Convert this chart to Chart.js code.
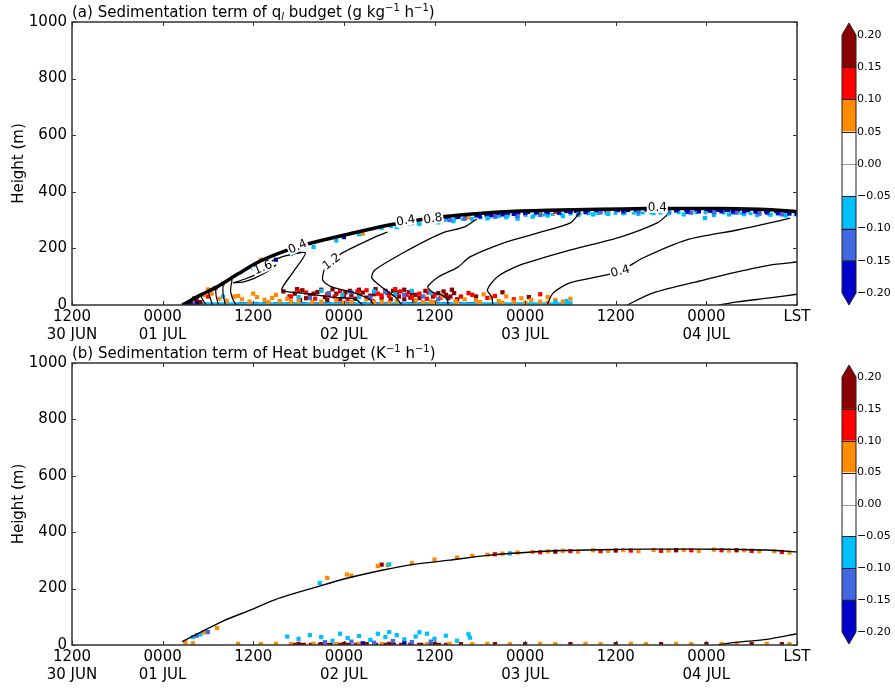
<!DOCTYPE html>
<html>
<head>
<meta charset="utf-8">
<script src="https://cdn.jsdelivr.net/npm/chart.js@4.4.1/dist/chart.umd.min.js"></script>
<style>
  body { margin: 0; background: #fff; width: 895px; height: 688px; position: relative; overflow: hidden; }
  .box { position: absolute; }
</style>
</head>
<body>
<div class="box" style="left:0;top:0"><canvas id="qlChart" width="895" height="341"></canvas></div>
<div class="box" style="left:820px;top:0"><canvas id="qlBar" width="75" height="341"></canvas></div>
<div class="box" style="left:0;top:341px"><canvas id="heatChart" width="895" height="341"></canvas></div>
<div class="box" style="left:820px;top:341px"><canvas id="heatBar" width="75" height="341"></canvas></div>

<script>
const FONT = "DejaVu Sans";

// time axis: hours since 1200 LST 30 JUN
const xTickValues = [0, 12, 24, 36, 48, 60, 72, 84, 96];
const xTickLines = [
  ["1200", "30 JUN"], ["0000", "01 JUL"], ["1200", ""], ["0000", "02 JUL"], ["1200", ""],
  ["0000", "03 JUL"], ["1200", ""], ["0000", "04 JUL"], ["LST", ""]
];
const yTickValues = [0, 200, 400, 600, 800, 1000];

// colour bar
const cbLevels = [-0.20, -0.15, -0.10, -0.05, 0.00, 0.05, 0.10, 0.15, 0.20];
const cbColors = ["#0000cd", "#4169e1", "#00bfff", "#ffffff", "#ffffff", "#ff8c00", "#ff0000", "#8b0000"];

// (a) ql contours  [hour, height m]
const qlCloudTop = [[14.6,0],[17,35],[19.2,64],[22,110],[24.9,155],[29.3,201],[33,228],[38.1,260],[42,283],[47,305],[51.4,318],[56.7,329],[63,335],[69.9,338],[76,341],[83.2,341],[88,340],[91,338],[94,334],[96,330]];
const qlFan1 = [[16.2,20],[16.6,8],[16.9,0]];
const qlFan2 = [[17,35],[17.4,15],[17.8,0]];
const qlFan3 = [[18,50],[18.3,25],[18.6,0]];
const qlFan4 = [[19,62],[19.1,30],[19.4,0]];
const qlFan5 = [[20,78],[20,40],[20.3,0]];
const qlFan6 = [[21.2,92],[21,50],[21.4,14],[21.8,0]];
const qlLoop16 = [[21.3,78],[22.9,92],[24.6,110],[26.2,131],[27,141],[26,120],[24.2,95],[22.6,81],[21.3,78]];
const qlC1 = [[26,150],[28,172],[30.9,184],[29.3,117],[27.8,53],[30.5,42],[34.4,28],[37.5,21],[38.5,0]];
const qlC2 = [[41.8,258],[40.1,240],[35.8,184],[34.4,152],[33.5,131],[33.2,88],[34.4,64],[37.5,42],[39.5,18],[39.9,0]];
const qlC3 = [[53.6,304],[52,276],[49,254],[44.5,194],[40.1,124],[39.7,95],[41,64],[42.8,28],[43.7,0]];
const qlC4 = [[67.3,329],[66,290],[61.6,254],[57.1,219],[52.7,170],[51.1,134],[48.5,99],[47.1,64],[47.7,46],[49,35],[49.7,18],[49.8,0]];
const qlC5 = [[78.8,318],[77.5,290],[72.6,240],[65.9,194],[59.3,141],[56.3,99],[55,53],[55.6,28],[55.7,0]];
const qlC6 = [[95.1,307],[92.4,290],[88.1,265],[81.4,230],[75.6,166],[72.3,117],[65.9,78],[63.7,42],[62.9,0]];
const qlC7 = [[96,152],[92.4,141],[88.1,117],[83.6,88],[76.9,42],[73.5,0]];
const qlC8 = [[96,38],[92.4,25],[88.1,11],[85.6,0]];

// (a) ql tendency speckles  [hour, height m]
const qlDarkRed = [[28,48],[29.5,40],[30.5,52],[31.5,35],[32.5,46],[33.5,28],[34.5,55],[35,40],[36,30],[36.8,50],[37.5,22],[38.5,44],[39.5,33],[40.2,56],[41,25],[41.8,42],[42.5,50],[43.3,30],[44,20],[44.6,45],[45.5,36],[49.2,48],[49.5,36],[49.8,24],[50.3,54],[44.8,26],[16.5,18],[17,10],[15.8,6],[53.5,30],[57,45],[60.5,28],
  [28.8,30],[29.8,56],[31,24],[32,40],[33,54],[34,36],[35.5,20],[36.2,44],[37,34],[38,54],[39,26],[40,38],[41.5,50],[42.2,20],[43,44],[44,54],[45,40],[46,24],[46.8,50],[47.8,30],[48.5,42],[50.1,30],[50.6,42],[51,20],[45.3,15],[33.8,18],[30.2,18]];
const qlRed = [[29,30],[31,44],[32.2,22],[33.8,38],[35.5,48],[36.5,20],[38,36],[39,52],[40.5,40],[42,32],[43.5,48],[45,28],[46,40],[47,22],[48,35],[51.5,30],[52.5,42],[55,25],[58.5,20],[16.2,24],[18,30],[62,38],[44,288],[60,326],[64,330],[91,332],[19,60],
  [30,48],[34.8,30],[37.8,48],[41,34],[44.3,36],[47.2,44],[48.8,26],[53,36],[56,32],[39.8,14],[42.8,56]];
const qlOrange = [[19.5,22],[20.5,15],[21.5,30],[22.5,20],[23.5,12],[24.5,28],[25.5,18],[26.5,25],[27.5,14],[28.5,22],[30,14],[33,12],[35,16],[37,10],[39,20],[41,12],[43,14],[45.5,16],[47.5,12],[49,30],[50.8,14],[52,20],[53.5,16],[54.5,38],[55.5,26],[56.5,14],[57.5,30],[58.5,12],[59.5,24],[60.8,18],[62,12],[63,28],[64,18],[65,12],[66,22],[18.5,40],[17.5,35],[38.5,252],[43.5,282],[49,300],[52.5,310],[62,321],[71,326],[83,334],[20,75],[18,55],[25,160],
  [27,36],[29,12],[31.8,10],[36,8],[40,10],[42,8],[46.5,10],[48,10],[51,8],[54,10],[57,8],[60,8],[63,8],[24,40],[26,10],[22,32]];
const qlSky = [[30,28],[33,50],[35.8,36],[38,28],[40,48],[42.8,38],[45,50],[47.5,42],[20,30],[15,3],[64,10],[65.5,14],[66,6],[41,272],[43,275],[46,286],[48.5,292],[50.5,296],[53,303],[55,306],[57.5,310],[59,305],[61,312],[63,316],[65,314],[67,318],[69,320],[71,322],[73,324],[75,322],[77,325],[79,324],[81,320],[83.8,307],[85,318],[87,320],[89,321],[90.7,318],[92.5,319],[94.5,316],[24,130],[26,150],[29,180],[32,205],[35,228],[38,250]];
const qlRoyal = [[31.5,25],[34,42],[37,45],[39.5,26],[41.5,46],[44,36],[46.5,30],[48.5,20],[50,300],[52,305],[56,312],[59,314],[62,318],[67,322],[70,327],[75,330],[79,330],[82,326],[85,327],[88,326],[91,323],[94,320]];
const qlNavy = [[54,313],[55.5,318],[57,320],[58.5,322],[60,325],[61.5,327],[63,328],[64.5,326],[66,329],[68,328],[73,331],[77,333],[80,334],[81.5,330],[83,331],[84.5,333],[86,331],[87.5,330],[89,331],[90.5,330],[92,327],[93.5,326],[95,323],[96,322],[27,160],[30,190],[36,240],[45,290],[48,298],[15.5,4],[16.5,6]];
const qlGroundSky = [[15,4],[66,4]];
const qlGroundNavy = [[22,5],[54,5]];
const qlTopNavy = [[48,301],[52,311],[56,320],[60,326],[66,330],[72,333],[78,335],[84,335],[90,332],[96,326]];
const qlTopSky = [[42,276],[46,290],[50,300],[54,308],[58,314],[64,320],[70,323],[76,325],[82,326],[88,324],[94,320],[96,318]];

// (b) heat contours
const heatCloudTop = [[14.6,12],[17,45],[20,85],[23.6,124],[27,162],[32.4,206],[36,234],[41.2,266],[45,285],[50,301],[55,318],[60,328],[65,335],[70,338],[76,340],[83,340],[88,339],[92,337],[96,330]];
const heatC1 = [[85.5,0],[88,10],[92,20],[96,40]];

// (b) heat tendency speckles
const heatDarkRed = [[41,285],[64,331],[72,335],[80,336],[88,336],[30,4],[33,3],[36,4],[39,3],[42,4],[45,3],[48,4],[51.5,3],[56,3],[60,3],[66,3],[72,3],[78,3],[84,3],[90,3],[94,3]];
const heatRed = [[56,322],[62,329],[66,333],[70,333],[74,335],[78,334],[82,336],[86,336],[90,334],[94,330]];
const heatOrange = [[33.8,238],[36.4,250],[37,246],[40.5,280],[41.8,283],[45,290],[48,303],[51,310],[53,316],[55,320],[57,324],[59,328],[61,330],[63,332],[65,334],[67,331],[69,336],[71,334],[73,337],[75,333],[77,337],[79,335],[81,337],[83,334],[85,338],[87,335],[89,336],[91,333],[93,333],[95,328],[19.2,60],[17.5,45],[22,4],[25,3],[27,4],[29,3],[32,4],[35,3],[38,4],[41,3],[44,4],[47,3],[50,4],[53,3],[55,4],[58,3],[62,4],[64,3],[68,4],[70,3],[74,4],[76,3],[80,4],[82,3],[86,4],[88,3],[92,4],[95,3],[16,6],[15,10]];
const heatSky = [[32.8,220],[42,286],[17,38],[16,28],[58,325],[28.5,30],[30,22],[31.5,35],[33,28],[34.5,15],[35.5,40],[36.5,25],[38,32],[39.5,18],[40.5,40],[41.5,28],[43,35],[44,20],[45.5,30],[47,40],[48,22],[49.5,33],[51,15],[52.5,38],[52.7,26],[42,46],[46,45]];
const heatRoyal = [[18,46],[16.5,33],[33.5,10],[37,12],[40,8],[42.5,14],[45,10],[47.5,12]];
const heatNavy = [[38.5,6],[44,6]];
const heatGroundRed = [[29,3],[50,3]];

// contour labels
const qlLabels = [
  { text: "0.4", h: 29.9, m: 205, rot: -24 },
  { text: "1.6", h: 25.3, m: 131, rot: -22 },
  { text: "1.2", h: 34.4, m: 152, rot: -38 },
  { text: "0.4", h: 44.2, m: 297, rot: -10 },
  { text: "0.8", h: 47.8, m: 304, rot: -8 },
  { text: "0.4", h: 77.5, m: 343, rot: 0 },
  { text: "0.4", h: 72.6, m: 118, rot: -15 }
];

const toXY = pts => pts.map(p => ({ x: p[0], y: p[1] }));

function lineSet(pts, color, width, order, dash) {
  return { data: toXY(pts), showLine: true, borderColor: color, borderWidth: width,
           pointRadius: 0, tension: 0.25, fill: false, order: order, borderDash: dash || [] };
}
function speckSet(pts, color) {
  return { data: toXY(pts), showLine: false, pointStyle: "rect", pointRadius: 3,
           backgroundColor: color, borderWidth: 0, order: 1 };
}

function framePlugin(titleParts, labels) {
  return {
    id: "frame",
    afterDraw(chart) {
      const { ctx, chartArea: { left, right, top, bottom }, scales: { x, y } } = chart;
      ctx.save();
      // contour labels
      ctx.font = "12px " + FONT;
      ctx.textAlign = "center";
      ctx.textBaseline = "middle";
      labels.forEach(l => {
        const px = x.getPixelForValue(l.h), py = y.getPixelForValue(l.m);
        ctx.save();
        ctx.translate(px, py);
        ctx.rotate(l.rot * Math.PI / 180);
        const w = ctx.measureText(l.text).width;
        ctx.fillStyle = "#fff";
        ctx.fillRect(-w / 2 - 1, -5, w + 2, 10);
        ctx.fillStyle = "#000";
        ctx.fillText(l.text, 0, 0);
        ctx.restore();
      });
      // frame and inward ticks
      ctx.strokeStyle = "#333";
      ctx.lineWidth = 1.5;
      ctx.strokeRect(left, top, right - left, bottom - top);
      ctx.lineWidth = 1;
      ctx.beginPath();
      xTickValues.forEach(v => {
        const px = Math.round(x.getPixelForValue(v)) + 0.5;
        ctx.moveTo(px, bottom); ctx.lineTo(px, bottom - 4);
        ctx.moveTo(px, top); ctx.lineTo(px, top + 4);
      });
      yTickValues.forEach(v => {
        const py = Math.round(y.getPixelForValue(v)) + 0.5;
        ctx.moveTo(left, py); ctx.lineTo(left + 4, py);
        ctx.moveTo(right, py); ctx.lineTo(right - 4, py);
      });
      ctx.stroke();
      // title with sub/superscripts
      let tx = left;
      ctx.textAlign = "left";
      ctx.textBaseline = "alphabetic";
      ctx.fillStyle = "#000";
      titleParts.forEach(([t, size, dy, style]) => {
        ctx.font = (style || "") + " " + size + "px " + FONT;
        ctx.fillText(t, tx, 17 + dy);
        tx += ctx.measureText(t).width;
      });
      ctx.restore();
    }
  };
}

function makePanel(id, datasets, titleParts, labels, xAxisHeight) {
  new Chart(document.getElementById(id), {
    type: "scatter",
    data: { datasets },
    options: {
      responsive: false,
      animation: false,
      layout: { padding: { top: 22, right: 98, left: 0, bottom: 0 } },
      plugins: { legend: { display: false }, tooltip: { enabled: false } },
      scales: {
        x: {
          type: "linear", min: 0, max: 96,
          afterBuildTicks: s => { s.ticks = xTickValues.map(v => ({ value: v })); },
          afterFit: s => { s.height = xAxisHeight; },
          ticks: { autoSkip: false, maxRotation: 0, padding: 3, color: "#000",
                   font: { family: FONT, size: 15 }, callback: (v, i) => xTickLines[i] },
          grid: { display: false, drawTicks: false },
          border: { display: false }
        },
        y: {
          min: 0, max: 1000,
          afterBuildTicks: s => { s.ticks = yTickValues.map(v => ({ value: v })); },
          afterFit: s => { s.width = 72; },
          ticks: { padding: 5, color: "#000", font: { family: FONT, size: 15 }, callback: v => String(v) },
          title: { display: true, text: "Height (m)", color: "#000",
                   font: { family: FONT, size: 15 }, padding: { top: 10, bottom: 0 } },
          grid: { display: false, drawTicks: false },
          border: { display: false }
        }
      }
    },
    plugins: [framePlugin(titleParts, labels)]
  });
}

function makeColorbar(id, padTop, padBottom) {
  new Chart(document.getElementById(id), {
    type: "bar",
    data: {
      labels: [""],
      datasets: cbColors.map((c, i) => ({
        data: [[cbLevels[i], cbLevels[i + 1]]], backgroundColor: c, borderWidth: 0,
        barPercentage: 1, categoryPercentage: 1, grouped: false
      }))
    },
    options: {
      responsive: false,
      animation: false,
      layout: { padding: { top: padTop, bottom: padBottom, left: 22, right: 0 } },
      plugins: { legend: { display: false }, tooltip: { enabled: false } },
      scales: {
        x: { display: false },
        y: {
          position: "right", min: -0.2, max: 0.2,
          afterBuildTicks: s => { s.ticks = cbLevels.map(v => ({ value: v })); },
          afterFit: s => { s.width = 39; },
          ticks: { padding: 1, color: "#000", font: { family: FONT, size: 11 },
                   callback: v => (v < 0 ? "\u2212" : "") + Math.abs(v).toFixed(2) },
          grid: { display: false, drawTicks: false },
          border: { display: false }
        }
      }
    },
    plugins: [{
      id: "cbframe",
      afterDraw(chart) {
        const { ctx, chartArea: { left, right, top, bottom }, scales: { y } } = chart;
        ctx.save();
        ctx.lineWidth = 1;
        cbLevels.forEach((v, i) => {
          if (i === 0 || i === cbLevels.length - 1) return;
          const py = Math.round(y.getPixelForValue(v)) + 0.5;
          ctx.strokeStyle = v === 0 ? "#999" : "#222";
          ctx.beginPath(); ctx.moveTo(left, py); ctx.lineTo(right, py); ctx.stroke();
        });
        const mid = (left + right) / 2;
        ctx.strokeStyle = "#222";
        ctx.fillStyle = cbColors[cbColors.length - 1];
        ctx.beginPath(); ctx.moveTo(left, top); ctx.lineTo(mid, top - 12); ctx.lineTo(right, top); ctx.closePath(); ctx.fill();
        ctx.fillStyle = cbColors[0];
        ctx.beginPath(); ctx.moveTo(left, bottom); ctx.lineTo(mid, bottom + 12); ctx.lineTo(right, bottom); ctx.closePath(); ctx.fill();
        ctx.beginPath();
        ctx.moveTo(mid, top - 12); ctx.lineTo(right, top); ctx.lineTo(right, bottom); ctx.lineTo(mid, bottom + 12);
        ctx.lineTo(left, bottom); ctx.lineTo(left, top); ctx.closePath();
        ctx.stroke();
        ctx.restore();
      }
    }]
  });
}

// panel (a)
makePanel("qlChart", [
  lineSet(qlCloudTop, "#000", 3.5, 0),
  lineSet(qlFan1, "#000", 1.2, 0), lineSet(qlFan2, "#000", 1.2, 0), lineSet(qlFan3, "#000", 1.2, 0),
  lineSet(qlFan4, "#000", 1.2, 0), lineSet(qlFan5, "#000", 1.2, 0), lineSet(qlFan6, "#000", 1.2, 0),
  lineSet(qlLoop16, "#000", 1.2, 0),
  lineSet(qlC1, "#000", 1.3, 0), lineSet(qlC2, "#000", 1.3, 0), lineSet(qlC3, "#000", 1.3, 0),
  lineSet(qlC4, "#000", 1.3, 0), lineSet(qlC5, "#000", 1.3, 0), lineSet(qlC6, "#000", 1.3, 0),
  lineSet(qlC7, "#000", 1.3, 0), lineSet(qlC8, "#000", 1.3, 0),
  speckSet(qlNavy, "#0000cd"), speckSet(qlRoyal, "#4169e1"), speckSet(qlSky, "#00bfff"),
  speckSet(qlOrange, "#ff8c00"), speckSet(qlRed, "#ff0000"), speckSet(qlDarkRed, "#8b0000"),
  lineSet(qlGroundSky, "#00bfff", 3, 2), lineSet(qlGroundNavy, "#0000cd", 3, 2, [9, 3]),
  lineSet(qlTopSky, "#00bfff", 3, 2, [4, 5]), lineSet(qlTopNavy, "#0000cd", 3, 2, [6, 4])
], [
  ["(a) Sedimentation term of q", 15, 0], ["l", 10, 3, "italic"], [" budget (g kg", 15, 0],
  ["\u22121", 10, -6], [" h", 15, 0], ["\u22121", 10, -6], [")", 15, 0]
], qlLabels, 36);

// panel (b)
makePanel("heatChart", [
  lineSet(heatCloudTop, "#000", 1.4, 0),
  lineSet(heatC1, "#000", 1.3, 0),
  speckSet(heatNavy, "#0000cd"), speckSet(heatRoyal, "#4169e1"), speckSet(heatSky, "#00bfff"),
  speckSet(heatOrange, "#ff8c00"), speckSet(heatRed, "#ff0000"), speckSet(heatDarkRed, "#8b0000"),
  lineSet(heatGroundRed, "#8b0000", 3, 2, [6, 3])
], [
  ["(b) Sedimentation term of Heat budget (K", 15, 0], ["\u22121", 10, -6], [" h", 15, 0],
  ["\u22121", 10, -6], [")", 15, 0]
], [], 37);

makeColorbar("qlBar", 35, 48);
makeColorbar("heatBar", 36, 50);
</script>
</body>
</html>
